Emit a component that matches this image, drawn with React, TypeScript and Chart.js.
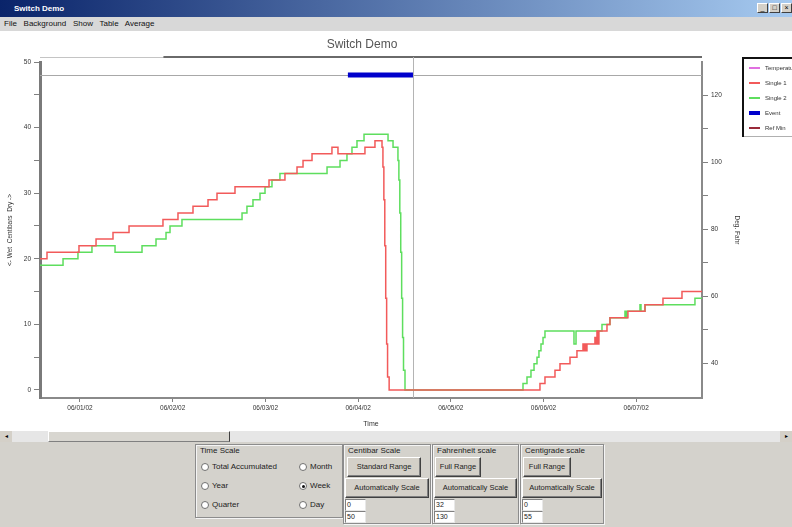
import React, { useEffect, useRef } from "react";
import { Chart, registerables } from "chart.js";

Chart.register(...registerables);

// ---------- data ----------
const timeTickDays = [1, 2, 3, 4, 5, 6, 7];
const timeTickLabels = ["06/01/02", "06/02/02", "06/03/02", "06/04/02", "06/05/02", "06/06/02", "06/07/02"];

const single1Days = [
  0.568, 0.644, 0.989, 1.173, 1.356, 1.529, 1.895, 2.057, 2.219, 2.381, 2.478, 2.672, 3.039, 3.211, 3.341,
  3.406, 3.503, 3.718, 3.783, 4.074, 4.182, 4.258, 4.268, 4.278, 4.288, 4.298, 4.308, 4.318, 4.335,
  5.962, 6.016, 6.124, 6.178, 6.286,
  6.361, 6.426, 6.437, 6.447, 6.458, 6.469, 6.555, 6.566, 6.577, 6.588, 6.598, 6.685, 6.717, 6.911, 7.095,
  7.289, 7.494, 7.71,
];
const single1Values = [
  20, 21, 22, 23, 24, 25, 26, 27, 28, 29, 30, 31, 32, 33, 34,
  35, 36, 37, 36, 37, 38, 37, 34, 29, 22, 14, 7, 2, 0,
  1, 2, 3, 4, 5,
  6, 7, 6, 7, 6, 7, 8, 7, 9, 7, 9, 10, 11, 12, 13,
  14, 15, 15,
];

const single2Days = [
  0.568, 0.817, 0.978, 1.129, 1.378, 1.669, 1.82, 1.928, 1.971, 2.1, 2.748, 2.801, 2.866, 2.942, 2.996,
  3.071, 3.157, 3.665, 3.805, 3.88, 3.934, 3.988, 4.064, 4.323, 4.377, 4.43, 4.44, 4.45, 4.46, 4.47,
  4.48, 4.49, 4.506, 5.779,
  5.822, 5.865, 5.898, 5.93, 5.951, 5.973, 5.995, 6.016, 6.329, 6.351, 6.631, 6.717, 6.879, 6.89, 6.901,
  7.041, 7.052, 7.095, 7.634, 7.71,
];
const single2Values = [
  19, 20, 21, 22, 21, 22, 23, 24, 25, 26, 27, 28, 29, 30, 31,
  32, 33, 34, 35, 36, 37, 38, 39, 38, 37, 35, 32, 27, 21, 14,
  8, 3, 0, 1,
  2, 3, 4, 5, 6, 7, 8, 9, 7, 9, 10, 11, 12, 11, 12,
  13, 12, 13, 14, 14,
];

const eventDays = [3.89, 4.592];
const eventValues = [48, 48];

const referenceLevel = 48;
const cursorDay = 4.592;
const overviewStartDay = 1.9;

const centibarTicks = [0, 5, 10, 15, 20, 25, 30, 35, 40, 45, 50];
const fahrenheitTicks = [40, 50, 60, 70, 80, 90, 100, 110, 120];

const seriesNames = ["Temperature", "Single 1", "Single 2", "Event", "Ref Min"];
const seriesColors = ["#e070e0", "#f25a5a", "#5ede5e", "#0000cc", "#9a2a3a"];

const uiFont = "'Liberation Sans', Arial, sans-serif";

const toPoints = (xs: number[], ys: number[]) => xs.map((x, i) => ({ x, y: ys[i] }));

const decorPlugin = {
  id: "decor",
  beforeDatasetsDraw(chart: any) {
    const { ctx, chartArea, scales } = chart;
    const xs = scales.x;
    const ys = scales.y;
    ctx.save();
    const topY = chartArea.top - 5;
    ctx.lineWidth = 1;
    ctx.strokeStyle = "#c4c4c4";
    ctx.beginPath();
    ctx.moveTo(chartArea.left, topY + 0.5);
    ctx.lineTo(chartArea.right, topY + 0.5);
    ctx.stroke();
    ctx.lineWidth = 2;
    ctx.strokeStyle = "#6a6a6a";
    ctx.beginPath();
    ctx.moveTo(xs.getPixelForValue(overviewStartDay), topY);
    ctx.lineTo(chartArea.right, topY);
    ctx.stroke();
    // reference line
    const ry = Math.round(ys.getPixelForValue(referenceLevel)) + 0.5;
    ctx.lineWidth = 1;
    ctx.strokeStyle = "#a8a8a8";
    ctx.beginPath();
    ctx.moveTo(chartArea.left, ry);
    ctx.lineTo(chartArea.right, ry);
    ctx.stroke();
    // cursor
    const cx = Math.round(xs.getPixelForValue(cursorDay)) + 0.5;
    ctx.strokeStyle = "#b4b4b4";
    ctx.beginPath();
    ctx.moveTo(cx, topY);
    ctx.lineTo(cx, chartArea.bottom);
    ctx.stroke();
    ctx.restore();
  },
  afterDraw(chart: any) {
    const { ctx, chartArea } = chart;
    ctx.save();
    ctx.fillStyle = "#555";
    ctx.font = `12px ${uiFont}`;
    ctx.textAlign = "center";
    ctx.textBaseline = "middle";
    ctx.fillText("Switch Demo", 362, 14);
    // legend box
    const bx = chartArea.right + 40;
    const by = chartArea.top - 5;
    const bh = 80;
    ctx.fillStyle = "#fff";
    ctx.fillRect(bx, by, 60, bh);
    ctx.strokeStyle = "#b0b0b0";
    ctx.lineWidth = 1;
    ctx.beginPath();
    ctx.moveTo(bx, by + bh - 0.5);
    ctx.lineTo(bx + 60, by + bh - 0.5);
    ctx.stroke();
    ctx.strokeStyle = "#111";
    ctx.lineWidth = 2;
    ctx.beginPath();
    ctx.moveTo(bx + 1, by + bh);
    ctx.lineTo(bx + 1, by + 1);
    ctx.lineTo(bx + 60, by + 1);
    ctx.stroke();
    ctx.font = `6px ${uiFont}`;
    ctx.textAlign = "left";
    chart.data.datasets.forEach((ds: any, i: number) => {
      const ly = by + 11 + i * 15;
      ctx.strokeStyle = ds.borderColor;
      ctx.lineWidth = ds.label === "Event" ? 4 : 2;
      ctx.beginPath();
      ctx.moveTo(bx + 7, ly);
      ctx.lineTo(bx + 18, ly);
      ctx.stroke();
      ctx.fillStyle = "#333";
      ctx.fillText(ds.label, bx + 23, ly);
    });
    ctx.restore();
  },
};

function Btn({ x, y, w, h, label }: any) {
  return (
    <div
      style={{
        position: "absolute", left: x, top: y, width: w, height: h, boxSizing: "border-box",
        background: "#d4d0c8", borderTop: "1px solid #fff", borderLeft: "1px solid #fff",
        borderRight: "1px solid #404040", borderBottom: "1px solid #404040",
        boxShadow: "inset -1px -1px #808080", fontSize: 7.5, lineHeight: `${h - 2}px`,
        textAlign: "center", color: "#222", whiteSpace: "nowrap", overflow: "hidden",
      }}
    >
      {label}
    </div>
  );
}

function Field({ x, y, text }: any) {
  return (
    <div
      style={{
        position: "absolute", left: x, top: y, width: 21, height: 12, boxSizing: "border-box",
        background: "#fff", borderTop: "1px solid #808080", borderLeft: "1px solid #808080",
        borderRight: "1px solid #e8e8e8", borderBottom: "1px solid #e8e8e8",
        fontSize: 7, lineHeight: "10px", paddingLeft: 1, color: "#222",
      }}
    >
      {text}
    </div>
  );
}

function Radio({ x, y, label, checked }: any) {
  return (
    <>
      <div
        style={{
          position: "absolute", left: x, top: y - 4, width: 8, height: 8, boxSizing: "border-box",
          borderRadius: "50%", background: "#fff", border: "1px solid #707070",
        }}
      >
        {checked && (
          <div style={{ position: "absolute", left: 1.5, top: 1.5, width: 3, height: 3, borderRadius: "50%", background: "#111" }} />
        )}
      </div>
      <div style={{ position: "absolute", left: x + 11, top: y - 5, fontSize: 8, lineHeight: "10px", color: "#222", whiteSpace: "nowrap" }}>
        {label}
      </div>
    </>
  );
}

function Group({ x, y, w, h, title }: any) {
  return (
    <>
      <div
        style={{
          position: "absolute", left: x, top: y, width: w, height: h, boxSizing: "border-box",
          border: "1px solid #8c8c8c", boxShadow: "inset 1px 1px #f4f4f4, 1px 1px #f4f4f4",
        }}
      />
      <div style={{ position: "absolute", left: x + 5, top: y + 2, fontSize: 8, lineHeight: "10px", color: "#222", whiteSpace: "nowrap" }}>
        {title}
      </div>
    </>
  );
}

export default function App() {
  const canvasRef = useRef<HTMLCanvasElement | null>(null);

  useEffect(() => {
    const canvas = canvasRef.current;
    if (!canvas) return;
    const datasets = [
      { label: seriesNames[0], data: [] as any[], borderColor: seriesColors[0], yAxisID: "yF" },
      { label: seriesNames[1], data: toPoints(single1Days, single1Values), borderColor: seriesColors[1], borderWidth: 1.5, stepped: true, yAxisID: "y" },
      { label: seriesNames[2], data: toPoints(single2Days, single2Values), borderColor: seriesColors[2], borderWidth: 1.5, stepped: true, yAxisID: "y" },
      { label: seriesNames[3], data: toPoints(eventDays, eventValues), borderColor: seriesColors[3], borderWidth: 5, borderCapStyle: "butt", yAxisID: "y" },
      { label: seriesNames[4], data: [] as any[], borderColor: seriesColors[4], yAxisID: "yF" },
    ];
    const tickFont = { family: uiFont, size: 6.5 };
    const chart = new Chart(canvas, {
      type: "line",
      data: { datasets: datasets as any },
      options: {
        animation: false,
        responsive: false,
        maintainAspectRatio: false,
        layout: { padding: { left: 0, right: 50, top: 31, bottom: 0 } },
        elements: { point: { radius: 0 }, line: { tension: 0, fill: false } },
        plugins: { legend: { display: false }, tooltip: { enabled: false }, title: { display: false } },
        scales: {
          x: {
            type: "linear",
            position: "bottom",
            min: 0.5685,
            max: 7.71,
            afterBuildTicks: (s: any) => {
              s.ticks = timeTickDays.map((v) => ({ value: v }));
            },
            afterFit: (s: any) => {
              s.height = 33;
            },
            ticks: {
              autoSkip: false,
              maxRotation: 0,
              padding: 2,
              color: "#333",
              font: tickFont,
              callback: (v: any) => {
                const i = timeTickDays.indexOf(Number(v));
                return i >= 0 ? timeTickLabels[i] : "";
              },
            },
            grid: { drawOnChartArea: false, drawTicks: true, tickLength: 4, color: "#808080" },
            border: { display: true, color: "#8a8a8a", width: 2 },
            title: { display: true, text: "Time", color: "#333", font: { family: uiFont, size: 7 }, padding: { top: 0, bottom: 3 } },
          },
          y: {
            type: "linear",
            position: "left",
            min: -1.22,
            max: 50,
            afterBuildTicks: (s: any) => {
              s.ticks = centibarTicks.map((v) => ({ value: v }));
            },
            afterFit: (s: any) => {
              s.width = 40;
            },
            ticks: {
              padding: 3,
              color: "#333",
              font: tickFont,
              callback: (v: any) => (Number(v) % 10 === 0 ? String(v) : ""),
            },
            grid: { drawOnChartArea: false, drawTicks: true, tickLength: 6, color: "#808080" },
            border: { display: true, color: "#7a7a7a", width: 3 },
            title: { display: true, text: "<- Wet  Centibars  Dry ->", color: "#333", font: { family: uiFont, size: 6.5 }, padding: { top: 6, bottom: 0 } },
          },
          yF: {
            type: "linear",
            position: "right",
            min: 29.61,
            max: 130,
            afterBuildTicks: (s: any) => {
              s.ticks = fahrenheitTicks.map((v) => ({ value: v }));
            },
            afterFit: (s: any) => {
              s.width = 40;
            },
            ticks: {
              padding: 3,
              color: "#333",
              font: tickFont,
              callback: (v: any) => (Number(v) % 20 === 0 ? String(v) : ""),
            },
            grid: { drawOnChartArea: false, drawTicks: true, tickLength: 6, color: "#808080" },
            border: { display: true, color: "#8a8a8a", width: 2 },
            title: { display: true, text: "Deg. Fahr", color: "#333", font: { family: uiFont, size: 6.5 }, padding: { top: 1, bottom: 0 } },
          },
        },
      } as any,
      plugins: [decorPlugin as any],
    });
    return () => chart.destroy();
  }, []);

  const menuItems = ["File", "Background", "Show", "Table", "Average"];

  return (
    <div style={{ position: "absolute", left: 0, top: 0, width: 792, height: 527, overflow: "hidden", background: "#fff", fontFamily: uiFont }}>
      {/* title bar */}
      <div style={{ position: "absolute", left: 0, top: 0, width: 792, height: 17, background: "linear-gradient(to right, #0a246a, #a6caf0)" }}>
        <div style={{ position: "absolute", left: 14, top: 0, fontSize: 8, fontWeight: "bold", color: "#fff", lineHeight: "17px" }}>Switch Demo</div>
        {["_", "\u25A1", "\u00D7"].map((c, i) => (
          <div
            key={i}
            style={{
              position: "absolute", left: 757 + i * 12, top: 3, width: 11, height: 10, boxSizing: "border-box",
              background: "#d4d0c8", borderTop: "1px solid #fff", borderLeft: "1px solid #fff",
              borderRight: "1px solid #404040", borderBottom: "1px solid #404040",
              fontSize: 7, lineHeight: "8px", textAlign: "center", color: "#000",
            }}
          >
            {c}
          </div>
        ))}
      </div>
      {/* menu bar */}
      <div style={{ position: "absolute", left: 0, top: 17, width: 792, height: 14, background: "#d8d8d8" }}>
        <div style={{ position: "absolute", left: 4, top: 0, fontSize: 8, lineHeight: "14px", color: "#111", whiteSpace: "pre" }}>
          {menuItems.join("   ")}
        </div>
      </div>
      {/* chart */}
      <div style={{ position: "absolute", left: 0, top: 31, width: 792, height: 400 }}>
        <canvas ref={canvasRef} width={792} height={400} style={{ width: 792, height: 400, display: "block" }} />
      </div>
      {/* scrollbar */}
      <div style={{ position: "absolute", left: 0, top: 431, width: 792, height: 11, background: "#e6e6e6" }}>
        <div style={{ position: "absolute", left: 0, top: 0, width: 12, height: 11, background: "#d4d0c8", fontSize: 6, lineHeight: "11px", textAlign: "center" }}>{"\u25C2"}</div>
        <div
          style={{
            position: "absolute", left: 48, top: 0, width: 182, height: 11, boxSizing: "border-box",
            background: "#d8d6d0", borderTop: "1px solid #fff", borderLeft: "1px solid #fff",
            borderRight: "1px solid #404040", borderBottom: "1px solid #808080",
          }}
        />
        <div style={{ position: "absolute", left: 780, top: 0, width: 12, height: 11, background: "#d4d0c8", fontSize: 6, lineHeight: "11px", textAlign: "center" }}>{"\u25B8"}</div>
      </div>
      {/* control panel */}
      <div style={{ position: "absolute", left: 0, top: 442, width: 792, height: 85, background: "#d4d2cc" }} />
      <Group x={195} y={444} w={148} h={74} title="Time Scale" />
      <Radio x={201} y={467} label="Total Accumulated" />
      <Radio x={201} y={486} label="Year" />
      <Radio x={201} y={505} label="Quarter" />
      <Radio x={299} y={467} label="Month" />
      <Radio x={299} y={486} label="Week" checked />
      <Radio x={299} y={505} label="Day" />

      <Group x={343} y={444} w={88} h={80} title="Centibar Scale" />
      <Btn x={347} y={457} w={74} h={20} label="Standard Range" />
      <Btn x={345} y={478} w={84} h={20} label="Automatically Scale" />
      <Field x={345} y={499} text="0" />
      <Field x={345} y={511} text="50" />

      <Group x={432} y={444} w={87} h={80} title="Fahrenheit scale" />
      <Btn x={435} y={457} w={46} h={20} label="Full Range" />
      <Btn x={434} y={478} w={83} h={20} label="Automatically Scale" />
      <Field x={434} y={499} text="32" />
      <Field x={434} y={511} text="130" />

      <Group x={520} y={444} w={84} h={80} title="Centigrade scale" />
      <Btn x={523} y={457} w={48} h={20} label="Full Range" />
      <Btn x={522} y={478} w={80} h={20} label="Automatically Scale" />
      <Field x={522} y={499} text="0" />
      <Field x={522} y={511} text="55" />
    </div>
  );
}
